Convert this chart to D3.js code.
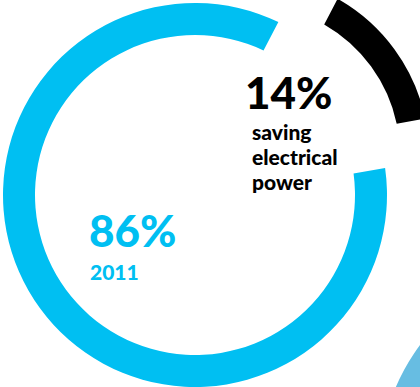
<!DOCTYPE html>
<html>
<head>
<meta charset="utf-8">
<script src="https://cdn.jsdelivr.net/npm/d3@7/dist/d3.min.js"></script>
<style>
  html, body { margin: 0; padding: 0; background: #fff; }
  svg { display: block; }
  text { font-family: Lato, "Open Sans", sans-serif; }
</style>
</head>
<body>
<script>
// Share of electrical power: saved vs. remaining (2011)
const categories = ["saving electrical power", "2011"];
const values = [14, 86];
const valueLabels = ["14%", "86%"];
const colors = ["#000000", "#00bff2"];

const width = 420, height = 387;
const cx = 195, cy = 195;
const innerR = 160, outerR = 192;

const svg = d3.select("body").append("svg")
  .attr("width", width).attr("height", height);

// neighbouring ring peeking in at the lower right corner
svg.append("path")
  .attr("transform", "translate(580,465)")
  .attr("d", d3.arc()({innerRadius: 168, outerRadius: 200, startAngle: 0, endAngle: 2 * Math.PI}))
  .attr("fill", "#67bde2");

// the saved slice sits centred around ~53° clockwise from 12 o'clock
const mid = 52.8 * Math.PI / 180;
const half = (values[0] / d3.sum(values)) * Math.PI;
const pie = d3.pie().sort(null).value(d => d)
  .startAngle(mid - half).endAngle(mid - half + 2 * Math.PI)
  .padAngle(0.05);
const slices = pie(values);

const g = svg.append("g").attr("transform", `translate(${cx},${cy})`);

// main ring
const arcMain = d3.arc().innerRadius(innerR).outerRadius(outerR);
g.append("path")
  .attr("d", arcMain(slices[1]))
  .attr("fill", colors[1]);

// exploded slice, pushed out along its bisector and slightly slimmer
const explode = 67;
const a = (slices[0].startAngle + slices[0].endAngle) / 2;
const arcOut = d3.arc().innerRadius(151).outerRadius(180);
g.append("path")
  .attr("transform", `translate(${explode * Math.sin(a)},${-explode * Math.cos(a)})`)
  .attr("d", arcOut(slices[0]))
  .attr("fill", colors[0]);

// labels
svg.append("text")
  .attr("x", 245).attr("y", 109)
  .attr("font-size", 44).attr("font-weight", 900)
  .attr("fill", colors[0])
  .text(valueLabels[0]);

const words = categories[0].split(" ");
svg.append("text")
  .attr("x", 252).attr("y", 140)
  .attr("font-size", 21).attr("font-weight", 900)
  .attr("fill", colors[0])
  .selectAll("tspan").data(words).join("tspan")
  .attr("x", 252).attr("dy", (d, i) => i === 0 ? 0 : 25)
  .text(d => d);

svg.append("text")
  .attr("x", 89).attr("y", 247)
  .attr("font-size", 44).attr("font-weight", 900)
  .attr("fill", colors[1])
  .text(valueLabels[1]);

svg.append("text")
  .attr("x", 90).attr("y", 280)
  .attr("font-size", 21).attr("font-weight", 900)
  .attr("fill", colors[1])
  .text(categories[1]);
</script>
</body>
</html>
